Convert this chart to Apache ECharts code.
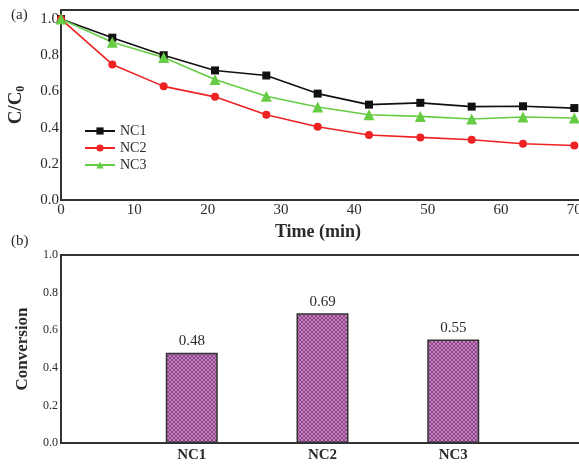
<!DOCTYPE html>
<html>
<head>
<meta charset="utf-8">
<script src="https://cdn.jsdelivr.net/npm/echarts@6/dist/echarts.min.js"></script>
<style>
  html, body { margin: 0; padding: 0; background: #fff; }
  #chart { width: 579px; height: 465px; }
</style>
</head>
<body>
<div id="chart"></div>
<script>
// Panel (a): normalised concentration over time
const timeMin = [0, 7, 14, 21, 28, 35, 42, 49, 56, 63, 70];
const nc1 = [1.0, 0.897, 0.80, 0.716, 0.688, 0.588, 0.527, 0.537, 0.516, 0.518, 0.508];
const nc2 = [1.0, 0.749, 0.628, 0.570, 0.471, 0.405, 0.359, 0.346, 0.333, 0.311, 0.301];
const nc3 = [1.0, 0.872, 0.788, 0.666, 0.573, 0.514, 0.471, 0.462, 0.448, 0.459, 0.453];

// Panel (b): conversion per catalyst
const catalysts = ['NC1', 'NC2', 'NC3'];
const conversion = [0.48, 0.69, 0.55];

const serif = 'Liberation Serif';
const ink = '#2a2a2a';

// Cross-hatched fill for the bars
function hatch() {
  const n = 4;
  const c = document.createElement('canvas');
  c.width = n; c.height = n;
  const g = c.getContext('2d');
  g.fillStyle = '#cc7cc4';
  g.fillRect(0, 0, n, n);
  g.strokeStyle = '#6f3a6d';
  g.lineWidth = 0.75;
  g.beginPath();
  g.moveTo(-1, -1); g.lineTo(n + 1, n + 1);
  g.moveTo(-1, n + 1); g.lineTo(n + 1, -1);
  g.stroke();
  return c;
}

const chart = echarts.init(document.getElementById('chart'), null, { renderer: 'canvas' });

const lineSeries = (name, data, color, symbol, size) => ({
  name, type: 'line', xAxisIndex: 0, yAxisIndex: 0,
  data: timeMin.map((t, i) => [t, data[i]]),
  symbol, symbolSize: size,
  lineStyle: { color, width: 1.6 },
  itemStyle: { color },
  z: 3
});

chart.setOption({
  animation: false,
  backgroundColor: '#fff',
  textStyle: { fontFamily: serif, color: ink },
  graphic: [
    { type: 'text', left: 11, top: 8, style: { text: '(a)', font: '15px "Liberation Serif"', fill: ink } },
    { type: 'text', left: 11, top: 234, style: { text: '(b)', font: '15px "Liberation Serif"', fill: ink } }
  ],
  legend: {
    left: 84, top: 124, orient: 'vertical', padding: 0,
    itemWidth: 30, itemHeight: 9, itemGap: 3,
    textStyle: { fontFamily: serif, fontSize: 14, color: ink },
    data: ['NC1', 'NC2', 'NC3']
  },
  grid: [
    { left: 61, top: 10, width: 528, height: 190, outerBoundsMode: 'none', containLabel: false,
      show: true, borderColor: '#333', borderWidth: 2, backgroundColor: 'transparent' },
    { left: 61, top: 255, width: 523, height: 188, outerBoundsMode: 'none', containLabel: false,
      show: true, borderColor: '#333', borderWidth: 2, backgroundColor: 'transparent' }
  ],
  xAxis: [
    {
      type: 'value', gridIndex: 0, min: 0, max: 72, interval: 10,
      axisLine: { show: true, lineStyle: { color: '#333', width: 2 } },
      axisTick: { show: false }, splitLine: { show: false },
      axisLabel: { fontFamily: serif, fontSize: 15, color: ink, margin: 3,
        formatter: v => (v % 10 === 0 && v <= 70) ? String(v) : '' },
      name: 'Time (min)', nameLocation: 'middle', nameGap: 23,
      nameTextStyle: { fontFamily: serif, fontSize: 18, fontWeight: 'bold', color: ink, padding: [0, 14, 0, 0] }
    },
    {
      type: 'category', gridIndex: 1, boundaryGap: false,
      data: ['', ...catalysts, ''],
      axisLine: { show: true, lineStyle: { color: '#333', width: 2 } },
      axisTick: { show: false },
      axisLabel: { fontFamily: serif, fontSize: 15, fontWeight: 'bold', color: ink, margin: 5, interval: 0 }
    }
  ],
  yAxis: [
    {
      type: 'value', gridIndex: 0, min: 0, max: 1.05, interval: 0.2,
      axisLine: { show: true, lineStyle: { color: '#333', width: 2 } },
      axisTick: { show: false }, splitLine: { show: false },
      axisLabel: { fontFamily: serif, fontSize: 15, color: ink, margin: 2,
        formatter: v => v.toFixed(1) },
      name: '{m|C/C}{s|0}', nameLocation: 'middle', nameGap: 34, nameRotate: 90,
      nameTextStyle: {
        rich: {
          m: { fontFamily: serif, fontSize: 19, fontWeight: 'bold', color: ink },
          s: { fontFamily: serif, fontSize: 12, fontWeight: 'bold', color: ink, padding: [10, 0, 0, 0] }
        }
      }
    },
    {
      type: 'value', gridIndex: 1, min: 0, max: 1, interval: 0.2,
      axisLine: { show: true, lineStyle: { color: '#333', width: 2 } },
      axisTick: { show: false }, splitLine: { show: false },
      axisLabel: { fontFamily: serif, fontSize: 12, color: ink, margin: 3,
        formatter: v => v.toFixed(1) },
      name: 'Conversion', nameLocation: 'middle', nameGap: 30, nameRotate: 90,
      nameTextStyle: { fontFamily: serif, fontSize: 17, fontWeight: 'bold', color: ink }
    }
  ],
  series: [
    lineSeries('NC1', nc1, '#111111', 'rect', 8),
    lineSeries('NC2', nc2, '#ee2222', 'circle', 8),
    lineSeries('NC3', nc3, '#66cc44', 'triangle', 11),
    {
      name: 'Conversion', type: 'bar', xAxisIndex: 1, yAxisIndex: 1,
      data: [null, ...conversion, null],
      barWidth: 52,
      itemStyle: { color: { image: hatch(), repeat: 'repeat' }, borderColor: '#333', borderWidth: 1.5 },
      label: { show: true, position: 'top', distance: 4, fontFamily: serif, fontSize: 15, color: ink,
        formatter: p => p.value == null ? '' : p.value.toFixed(2) }
    }
  ]
});
</script>
</body>
</html>
